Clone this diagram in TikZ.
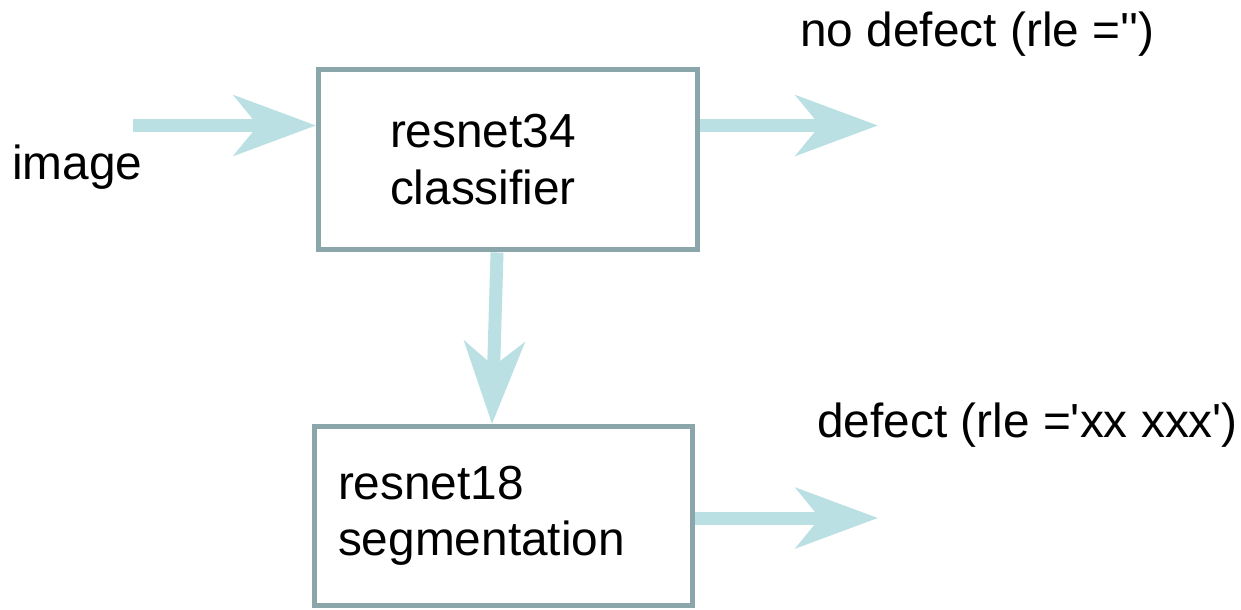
\documentclass[tikz,border=0pt]{standalone}
\usepackage{fontspec}
\setmainfont{Liberation Sans}
\usetikzlibrary{arrows.meta, positioning}
\definecolor{boxgray}{RGB}{138,166,170}
\definecolor{arrowcyan}{RGB}{186,224,228}

\begin{document}
\begin{tikzpicture}[x=0.02cm, y=-0.02cm,
  stage/.style={draw=boxgray, line width=0.1cm, fill=white, align=left, font=\fontsize{27.2}{32}\selectfont},
  flow/.style={arrowcyan, line width=0.26cm, -{Stealth[length=1.64cm, width=1.2cm, inset=0.48cm]}},
  lbl/.style={inner sep=0pt, anchor=base west, font=\fontsize{27.2}{32}\selectfont}]
  \useasboundingbox (0,0) rectangle (1241,609);

  % Stages
  \node[stage, minimum width=7.58cm, minimum height=3.62cm, inner xsep=1.43cm, text width=4.72cm] (cls) at (508,159.5) {resnet34\\classifier};
  \node[stage, minimum width=7.58cm, minimum height=3.58cm, inner xsep=0.48cm, text width=6.62cm] (seg) at (503.5,516) {resnet18\\segmentation};

  % Arrow ends
  \coordinate (src) at (133,125.5);
  \coordinate (okout) at (878,125.5);
  \coordinate (badout) at (878,518);

  % Flow arrows
  \draw[flow] (src) -- (src -| cls.west);
  \draw[flow] (cls.east |- okout) -- (okout);
  \draw[flow] ([xshift=-0.22cm]cls.south) -- ([xshift=-0.23cm]seg.north);
  \draw[flow] (seg.east |- badout) -- (badout);

  % Labels
  \node[lbl] (imgtxt) at (12,179) {image};
  \node[lbl] (oktxt) at (800,46) {no defect (rle =\textquotesingle\textquotesingle)};
  \node[lbl] (badtxt) at (817,437) {defect (rle =\textquotesingle xx xxx\textquotesingle)};
\end{tikzpicture}
\end{document}
